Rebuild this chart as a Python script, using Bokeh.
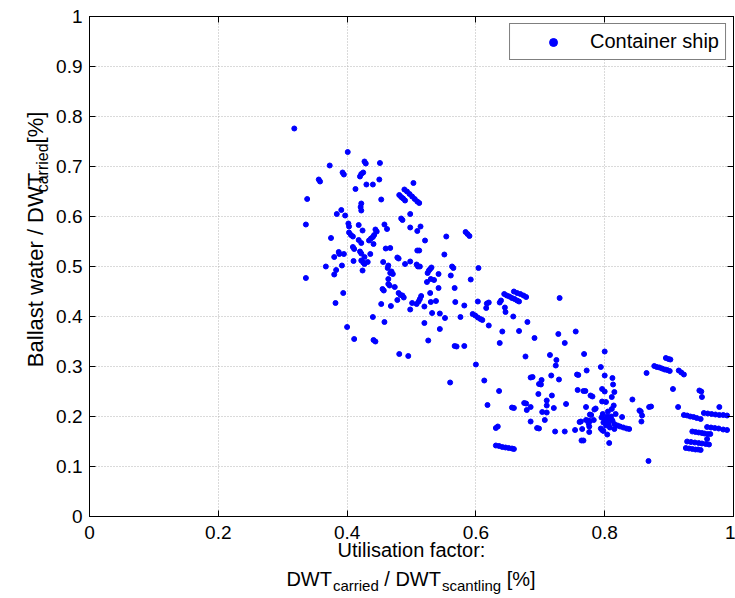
import math
from bokeh.plotting import figure
from bokeh.layouts import column, row
from bokeh.models import Range1d, LinearAxis, FixedTicker, NumeralTickFormatter
from bokeh.core.properties import value
from bokeh.embed import file_html
from bokeh.resources import INLINE

# ---------------- data ----------------
x_ticks = [0, 0.2, 0.4, 0.6, 0.8, 1.0]
y_ticks = [0, 0.1, 0.2, 0.3, 0.4, 0.5, 0.6, 0.7, 0.8, 0.9, 1.0]
series_name = "Container ship"
x_title_line1 = "Utilisation factor:"
x_title_parts = ["DWT", "carried", "/ DWT", "scantling", "[%]"]
x_title_sub = [False, True, False, True, False]
x_title_gap = [False, False, True, False, True]
y_title_parts = ["Ballast water / DWT", "carried", "[%]"]
y_title_sub = [False, True, False]
y_title_gap = [False, False, True]

utilisation = [
    0.318, 0.338, 0.336, 0.336, 0.356, 0.358, 0.373, 0.367, 0.375, 0.380, 0.380, 0.382, 0.383, 0.384,
    0.387, 0.388, 0.391, 0.392, 0.393, 0.395, 0.394, 0.395, 0.397, 0.400, 0.401, 0.402, 0.403, 0.403,
    0.406, 0.409, 0.409, 0.411, 0.410, 0.411, 0.413, 0.418, 0.418, 0.420, 0.422, 0.422, 0.425, 0.420,
    0.422, 0.421, 0.422, 0.422, 0.422, 0.425, 0.427, 0.424, 0.424, 0.427, 0.429, 0.427, 0.430, 0.432,
    0.436, 0.437, 0.434, 0.440, 0.442, 0.440, 0.440, 0.441, 0.441, 0.444, 0.444, 0.446, 0.450, 0.451,
    0.453, 0.453, 0.455, 0.457, 0.456, 0.458, 0.458, 0.460, 0.462, 0.464, 0.463, 0.464, 0.464, 0.466,
    0.467, 0.467, 0.469, 0.471, 0.468, 0.474, 0.478, 0.480, 0.478, 0.480, 0.483, 0.486, 0.488, 0.481,
    0.484, 0.486,
    0.481, 0.484, 0.487, 0.490,
    0.489, 0.493, 0.497, 0.501, 0.505, 0.509, 0.512,
    0.490, 0.495, 0.498, 0.498, 0.498, 0.498, 0.501, 0.503, 0.508, 0.510, 0.509, 0.512, 0.509, 0.514,
    0.508, 0.511, 0.513, 0.515, 0.513, 0.520, 0.520, 0.521, 0.524, 0.525, 0.527, 0.529, 0.531, 0.526,
    0.529, 0.530, 0.530, 0.532, 0.535, 0.538, 0.542, 0.542, 0.544, 0.544, 0.551, 0.552, 0.554, 0.560,
    0.561, 0.563, 0.565, 0.567, 0.567, 0.570, 0.568, 0.576, 0.582, 0.582,
    0.584, 0.587, 0.590, 0.592,
    0.595, 0.599, 0.603, 0.607, 0.610,
    0.600, 0.603, 0.604, 0.613, 0.616, 0.617, 0.620, 0.618, 0.620, 0.631, 0.634,
    0.631, 0.636, 0.641, 0.646, 0.651, 0.656, 0.659,
    0.636, 0.637, 0.639, 0.637, 0.641, 0.645, 0.646,
    0.644, 0.648, 0.652, 0.656, 0.660, 0.664, 0.667,
    0.659, 0.664, 0.669, 0.674, 0.678,
    0.656, 0.659, 0.658, 0.667, 0.675, 0.678, 0.677, 0.679, 0.680, 0.685, 0.688, 0.685, 0.685, 0.691,
    0.695, 0.698, 0.697, 0.698, 0.701, 0.702, 0.703, 0.707, 0.710, 0.710, 0.710, 0.715, 0.717, 0.718,
    0.721, 0.723, 0.724, 0.725, 0.728, 0.729, 0.730, 0.738, 0.738, 0.740, 0.754, 0.755, 0.757, 0.759,
    0.758, 0.761, 0.763, 0.764, 0.767, 0.765, 0.767, 0.770, 0.768, 0.771, 0.771, 0.774, 0.777, 0.772,
    0.775, 0.776, 0.776, 0.777, 0.779, 0.778, 0.781, 0.783, 0.784, 0.786, 0.794, 0.796, 0.798, 0.794,
    0.796, 0.796, 0.800, 0.800, 0.800, 0.802, 0.804, 0.807,
    0.797, 0.800, 0.803, 0.806, 0.810, 0.812, 0.808, 0.815, 0.802, 0.798, 0.795, 0.805, 0.811, 0.817,
    0.808, 0.804,
    0.811, 0.812, 0.813, 0.814, 0.815, 0.815,
    0.820, 0.824, 0.829, 0.834, 0.838,
    0.827, 0.843, 0.854, 0.856, 0.857, 0.858, 0.865, 0.868, 0.869, 0.872,
    0.877, 0.881, 0.885, 0.889, 0.893, 0.897, 0.901,
    0.895, 0.899, 0.902, 0.906, 0.914, 0.915, 0.919, 0.923,
    0.923, 0.928, 0.933, 0.938, 0.943, 0.949,
    0.954, 0.960, 0.966, 0.972, 0.978, 0.984, 0.990,
    0.959, 0.965, 0.971, 0.977, 0.984, 0.990,
    0.936, 0.941, 0.946, 0.951, 0.955, 0.960, 0.964,
    0.928, 0.934, 0.940, 0.946, 0.951, 0.957, 0.962,
    0.926, 0.931, 0.936, 0.941, 0.945, 0.949,
    0.947, 0.950, 0.951, 0.959, 0.978,
]

ballast = [
    0.776, 0.635, 0.584, 0.477, 0.674, 0.670, 0.702, 0.500, 0.557, 0.519, 0.484, 0.427, 0.493, 0.605,
    0.529, 0.525, 0.613, 0.502, 0.688, 0.684, 0.447, 0.525, 0.602, 0.379, 0.729, 0.586, 0.580, 0.568,
    0.563, 0.560, 0.539, 0.535, 0.511, 0.355, 0.655, 0.583, 0.553, 0.530, 0.526, 0.685, 0.688, 0.680,
    0.626, 0.619, 0.612, 0.547, 0.512, 0.508, 0.505, 0.572, 0.492, 0.710, 0.706, 0.519, 0.664, 0.509,
    0.525, 0.556, 0.552, 0.559, 0.563, 0.664, 0.399, 0.545, 0.353, 0.350, 0.574, 0.570, 0.674, 0.707,
    0.634, 0.425, 0.455, 0.452, 0.509, 0.584, 0.389, 0.536, 0.575, 0.502, 0.497, 0.475, 0.465, 0.462,
    0.537, 0.487, 0.490, 0.485, 0.421, 0.459, 0.518, 0.516, 0.433, 0.447, 0.443, 0.442, 0.438, 0.325,
    0.596, 0.593,
    0.643, 0.639, 0.636, 0.632,
    0.654, 0.650, 0.645, 0.640, 0.635, 0.630, 0.627,
    0.505, 0.321, 0.605, 0.578, 0.510, 0.414, 0.427, 0.667, 0.504, 0.500, 0.532, 0.532, 0.571, 0.580,
    0.425, 0.430, 0.435, 0.441, 0.500, 0.420, 0.387, 0.552, 0.469, 0.487, 0.492, 0.495, 0.498, 0.352,
    0.447, 0.475, 0.429, 0.407, 0.473, 0.431, 0.485, 0.457, 0.406, 0.375, 0.524, 0.397, 0.560, 0.268,
    0.482, 0.500, 0.497, 0.457, 0.341, 0.340, 0.429, 0.399, 0.422, 0.341,
    0.569, 0.565, 0.561, 0.474,
    0.405, 0.402, 0.398, 0.395, 0.393,
    0.304, 0.430, 0.497, 0.272, 0.417, 0.426, 0.428, 0.223, 0.382, 0.177, 0.180,
    0.142, 0.141, 0.139, 0.138, 0.137, 0.136, 0.135,
    0.251, 0.428, 0.432, 0.347, 0.370, 0.418, 0.409,
    0.445, 0.442, 0.440, 0.437, 0.435, 0.432, 0.430,
    0.450, 0.447, 0.445, 0.442, 0.439,
    0.218, 0.217, 0.400, 0.371, 0.227, 0.226, 0.320, 0.213, 0.389, 0.278, 0.279, 0.219, 0.190, 0.357,
    0.177, 0.176, 0.245, 0.265, 0.264, 0.273, 0.209, 0.193, 0.232, 0.222, 0.208, 0.323, 0.282, 0.242,
    0.217, 0.170, 0.302, 0.313, 0.365, 0.274, 0.437, 0.347, 0.170, 0.225, 0.173, 0.370, 0.284, 0.283,
    0.253, 0.189, 0.190, 0.152, 0.152, 0.175, 0.251, 0.251, 0.325, 0.219, 0.193, 0.192, 0.191, 0.292,
    0.186, 0.180, 0.169, 0.204, 0.203, 0.242, 0.240, 0.193, 0.214, 0.216, 0.176, 0.173, 0.171, 0.299,
    0.255, 0.230, 0.330, 0.282, 0.250, 0.229, 0.164, 0.147,
    0.205, 0.195, 0.190, 0.185, 0.200, 0.192, 0.178, 0.185, 0.182, 0.188, 0.198, 0.210, 0.215, 0.205,
    0.195, 0.200,
    0.239, 0.277, 0.264, 0.222, 0.249, 0.175,
    0.182, 0.180, 0.178, 0.176, 0.175,
    0.199, 0.234, 0.212, 0.210, 0.190, 0.202, 0.287, 0.111, 0.219, 0.220,
    0.301, 0.299, 0.298, 0.296, 0.294, 0.293, 0.291,
    0.317, 0.315, 0.314, 0.255, 0.219, 0.292, 0.288, 0.284,
    0.203, 0.202, 0.200, 0.199, 0.197, 0.195,
    0.207, 0.206, 0.205, 0.204, 0.203, 0.203, 0.202,
    0.179, 0.178, 0.177, 0.176, 0.174, 0.173,
    0.170, 0.169, 0.168, 0.167, 0.166, 0.165, 0.165,
    0.150, 0.149, 0.148, 0.147, 0.146, 0.145, 0.144,
    0.137, 0.136, 0.135, 0.134, 0.134, 0.133,
    0.252, 0.250, 0.239, 0.155, 0.219,
]

# ---------------- styling ----------------
FONT = "Liberation Sans"
TICK_SIZE = 19
XT_SIZE, XT_SUB = 20, 15
YT_SIZE, YT_SUB = 22, 16
BLUE = "#0000ff"

# page geometry (pixels)
W, H = 735, 598
YLAB_W = 53
MAIN_H = 563
FRAME_L, FRAME_R, FRAME_T, FRAME_B = 88, 733, 16, 516

# Arial / Liberation Sans advance widths (per 1000 em) for laying out the titles
ADV = {" ": 278, "/": 278, "[": 278, "]": 278, "%": 889, ":": 278, "D": 722, "W": 944, "T": 611,
       "B": 667, "U": 722, "a": 556, "c": 500, "d": 556, "e": 556, "g": 556, "i": 222, "l": 222,
       "n": 556, "r": 333, "s": 500, "t": 278, "w": 722, "o": 556, "f": 278, "h": 556, "p": 556}


def tw(s, size):
    return sum(ADV.get(ch, 556) for ch in s) * size / 1000.0


def layout_pieces(parts, subs, gaps, size, sub_size, sub_gap):
    """Return (text, start offset, font size, is_sub) for every piece, and the total length."""
    out, pos = [], 0.0
    for t, s, g in zip(parts, subs, gaps):
        if g:
            pos += tw(" ", size)
        elif s:
            pos += sub_gap
        fs = sub_size if s else size
        out.append((t, pos, fs, s))
        pos += tw(t, fs)
    return out, pos


def text_fig(width, height):
    return figure(width=width, height=height, x_range=Range1d(0, width), y_range=Range1d(0, height),
                  x_axis_type=None, y_axis_type=None, toolbar_location=None, output_backend="svg",
                  min_border=0, min_border_left=0, min_border_right=0, min_border_top=0,
                  min_border_bottom=0, outline_line_color=None, border_fill_color="white",
                  background_fill_color="white")


# ---------------- main plot ----------------
main = figure(width=W - YLAB_W, height=MAIN_H, x_range=Range1d(0, 1), y_range=Range1d(0, 1),
              output_backend="svg", toolbar_location=None,
              min_border_left=FRAME_L - YLAB_W, min_border_right=W - FRAME_R,
              min_border_top=FRAME_T, min_border_bottom=MAIN_H - FRAME_B,
              background_fill_color="white", border_fill_color="white")
main.outline_line_color = "black"
main.outline_line_width = 1

main.scatter(utilisation, ballast, size=5, marker="circle", fill_color=BLUE, line_color=BLUE,
             legend_label=series_name)

for ax, ticks in ((main.xaxis[0], x_ticks), (main.yaxis[0], y_ticks)):
    ax.ticker = FixedTicker(ticks=ticks)
    ax.formatter = NumeralTickFormatter(format="0.[0]")
    ax.major_tick_in = 6
    ax.major_tick_out = 0
    ax.minor_tick_line_color = None
    ax.axis_line_color = "black"
    ax.major_tick_line_color = "black"
    ax.major_label_text_font = FONT
    ax.major_label_text_font_size = f"{TICK_SIZE}px"
    ax.major_label_text_color = "black"
main.xaxis[0].major_label_standoff = 9
main.yaxis[0].major_label_standoff = 7

# first line of the x title is the x axis label itself
xa = main.xaxis[0]
xa.axis_label = x_title_line1
xa.axis_label_text_font = FONT
xa.axis_label_text_font_size = f"{XT_SIZE}px"
xa.axis_label_text_font_style = "normal"
xa.axis_label_text_color = "black"
xa.axis_label_standoff = -3

for loc, ticks in (("right", y_ticks), ("above", x_ticks)):
    ax = LinearAxis(ticker=FixedTicker(ticks=ticks), major_label_text_font_size="1px",
                    major_label_text_color=None, major_label_standoff=0,
                    major_tick_in=6, major_tick_out=0,
                    minor_tick_line_color=None, axis_line_color="black",
                    major_tick_line_color="black")
    main.add_layout(ax, loc)

main.xgrid.ticker = FixedTicker(ticks=x_ticks)
main.ygrid.ticker = FixedTicker(ticks=y_ticks)
for g in (main.xgrid, main.ygrid):
    g.grid_line_color = "#b4b4b4"
    g.grid_line_dash = "1 2"
    g.grid_line_width = 1

lg = main.legend[0]
lg.location = "top_right"
lg.margin = 7
lg.padding = 6
lg.glyph_width = 74
lg.glyph_height = 20
lg.label_standoff = 0
lg.border_line_color = "black"
lg.border_line_width = 1
lg.background_fill_alpha = 1
lg.label_text_font = FONT
lg.label_text_font_size = "20px"
lg.label_text_color = "black"

# ---------------- y-axis title (rotated, with subscript) ----------------
ylab = text_fig(YLAB_W, MAIN_H)
pieces, total = layout_pieces(y_title_parts, y_title_sub, y_title_gap, YT_SIZE, YT_SUB, 2.5)
center_canvas_y = 253
start = (MAIN_H - center_canvas_y) - total / 2
for t, off, fs, s in pieces:
    ylab.text(x=[42 if s else 35], y=[start + off], text=[t], angle=math.pi / 2,
              text_align="left", text_baseline="alphabetic",
              text_font=value(FONT), text_font_size=value(f"{fs}px"), text_color="black")

# ---------------- x-axis title, second line (with subscripts) ----------------
XLAB_H = H - MAIN_H
xlab = text_fig(W, XLAB_H)
center_x = (FRAME_L + FRAME_R) / 2
pieces, total = layout_pieces(x_title_parts, x_title_sub, x_title_gap, XT_SIZE, XT_SUB, 1.0)
start = center_x - total / 2
for t, off, fs, s in pieces:
    xlab.text(x=[start + off], y=[H - (585 if s else 578)], text=[t], text_align="left",
              text_baseline="alphabetic", text_font=value(FONT),
              text_font_size=value(f"{fs}px"), text_color="black")

layout = column(row(ylab, main), xlab)
open("out.html", "w").write(file_html(layout, INLINE))
